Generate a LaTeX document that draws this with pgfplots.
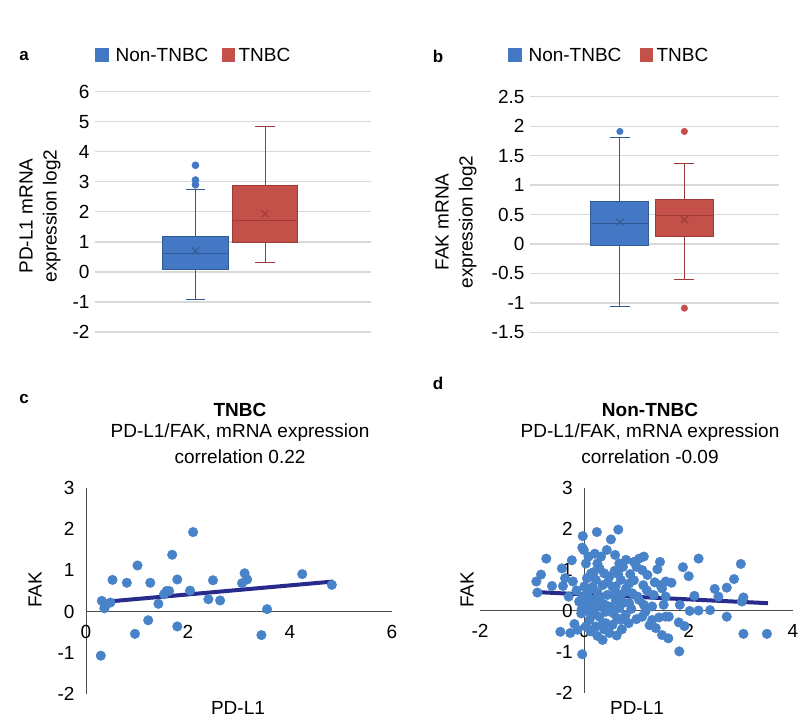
\documentclass[border=0pt]{standalone}
\usepackage{pgfplots}
\pgfplotsset{compat=1.18}
\usepgfplotslibrary{statistics}
\usepackage{fontspec}
\setmainfont{Liberation Sans}

\definecolor{boxblue}{RGB}{68,120,196}
\definecolor{boxblueline}{RGB}{50,90,150}
\definecolor{boxred}{RGB}{196,80,74}
\definecolor{boxredline}{RGB}{158,58,55}
\definecolor{dotblue}{RGB}{72,130,200}
\definecolor{trendline}{RGB}{40,42,140}
\definecolor{gridgray}{RGB}{217,217,217}
\newcommand\fs{\fontsize{19}{24}\selectfont}

\pgfplotsset{
  boxpanel/.style={
    scale only axis, xmin=0, xmax=1, xtick=\empty,
    axis line style={draw=none}, major tick length=0pt,
    ymajorgrids, grid style={gridgray, line width=1.3pt},
    tick label style={font=\fs},
    yticklabel style={xshift=-2pt},
    /pgf/number format/assume math mode=true,
    boxplot/draw direction=y,
    clip=false,
  },
  scatpanel/.style={
    scale only axis, axis lines=middle,
    axis line style={-, draw=black!70, line width=1pt},
    major tick length=0pt, tick label style={font=\fs},
    /pgf/number format/assume math mode=true,
    hide obscured x ticks=false, hide obscured y ticks=false,
    xticklabel style={yshift=-10pt},
    yticklabel style={xshift=-8pt},
    clip=false,
  },
}

\begin{document}
\begin{tikzpicture}
\path[use as bounding box] (0pt,0pt) rectangle (800pt,721pt);

% ---- panel a
\begin{axis}[boxpanel, at={(95pt,389pt)}, anchor=south west,
  width=276pt, height=240.3pt, ymin=-2, ymax=6, ytick={-2,...,6}]
\addplot[boxplot prepared={draw position=0.364, lower whisker=-0.92,
    lower quartile=0.08, median=0.63, upper quartile=1.19, upper whisker=2.76,
    box extend=0.236, whisker extend=0.072},
  fill=boxblue, draw=boxblueline, line width=1pt,
  mark=*, mark size=3.3pt, mark options={fill=boxblue, draw=boxblue}]
  table[row sep=\\, y index=0] {3.55\\3.06\\2.90\\};
\addplot[boxplot prepared={draw position=0.616, lower whisker=0.31,
    lower quartile=0.99, median=1.72, upper quartile=2.88, upper whisker=4.84,
    box extend=0.236, whisker extend=0.072},
  fill=boxred, draw=boxredline, line width=1pt] coordinates {};
\addplot[only marks, mark=x, mark size=5pt, boxblueline, line width=1pt]
  coordinates {(0.364,0.70)};
\addplot[only marks, mark=x, mark size=5pt, boxredline, line width=1pt]
  coordinates {(0.616,1.93)};
\end{axis}

% ---- panel b
\begin{axis}[boxpanel, at={(530pt,388.7pt)}, anchor=south west,
  width=249pt, height=235.6pt, ymin=-1.5, ymax=2.5,
  ytick={-1.5,-1,-0.5,0,0.5,1,1.5,2,2.5}]
\addplot[boxplot prepared={draw position=0.361, lower whisker=-1.06,
    lower quartile=-0.02, median=0.34, upper quartile=0.72, upper whisker=1.81,
    box extend=0.233, whisker extend=0.08},
  fill=boxblue, draw=boxblueline, line width=1pt,
  mark=*, mark size=3pt, mark options={fill=boxblue, draw=boxblue}]
  table[row sep=\\, y index=0] {1.91\\};
\addplot[boxplot prepared={draw position=0.62, lower whisker=-0.60,
    lower quartile=0.12, median=0.49, upper quartile=0.75, upper whisker=1.37,
    box extend=0.233, whisker extend=0.08},
  fill=boxred, draw=boxredline, line width=1pt,
  mark=*, mark size=3pt, mark options={fill=boxred, draw=boxred}]
  table[row sep=\\, y index=0] {1.91\\-1.09\\};
\addplot[only marks, mark=x, mark size=5pt, boxblueline, line width=1pt]
  coordinates {(0.361,0.37)};
\addplot[only marks, mark=x, mark size=5pt, boxredline, line width=1pt]
  coordinates {(0.62,0.41)};
\end{axis}

% ---- panel c
\begin{axis}[scatpanel, at={(86pt,27pt)}, anchor=south west,
  width=306pt, height=206pt, xmin=0, xmax=6, ymin=-2, ymax=3,
  xtick={0,2,4,6}, ytick={-2,...,3}]
\addplot[only marks, mark=*, mark size=4.8pt, mark options={fill=dotblue, draw=dotblue}]
coordinates {
(0.31,0.26) (0.37,0.12) (0.36,0.08) (0.48,0.22) (0.52,0.77) (0.80,0.70)
(1.01,1.12) (0.96,-0.54) (1.26,0.70) (1.22,-0.21) (1.42,0.19) (1.53,0.42)
(1.58,0.50) (1.63,0.50) (1.69,1.38) (1.79,0.78) (1.79,-0.36) (2.04,0.51)
(2.10,1.93) (2.40,0.30) (2.49,0.76) (2.63,0.27) (3.11,0.93) (3.06,0.69)
(3.16,0.78) (3.55,0.06) (3.44,-0.57) (4.24,0.91) (4.82,0.65) (0.29,-1.07)
};
\addplot[trendline, line width=4pt] coordinates {(0.30,0.23) (4.85,0.73)};
\end{axis}

% ---- panel d
\begin{axis}[scatpanel, at={(480pt,28.3pt)}, anchor=south west,
  width=313pt, height=204.4pt, xmin=-2, xmax=4, ymin=-2, ymax=3,
  xtick={-2,0,2,4}, ytick={-2,...,3}]
\addplot[only marks, mark=*, mark size=4.8pt, mark options={fill=dotblue, draw=dotblue}]
coordinates {
(-0.73,1.28) (-0.83,0.89) (-0.92,0.72) (-0.90,0.45) (-0.62,0.61) (-0.43,1.04)
(-0.41,0.61) (-0.24,1.24) (-0.37,0.80) (-0.22,0.72) (-0.46,-0.51) (-0.27,-0.54)
(-0.19,-0.32) (-0.13,-0.46) (-0.03,1.83) (-0.04,1.55) (-0.01,1.49) (0.08,1.33)
(0.03,1.16) (0.13,0.92) (-0.04,-1.06) (0.24,1.93) (0.51,1.75) (0.65,1.99)
(0.43,1.49) (0.32,1.33) (0.25,1.16) (0.29,1.04) (0.59,1.37) (0.67,1.16)
(0.74,1.08) (1.05,1.28) (1.14,1.33) (1.00,1.08) (1.11,1.00) (1.21,0.88)
(1.45,1.20) (1.40,1.02) (1.13,0.63) (1.46,0.63) (1.56,0.72) (1.67,0.69)
(1.49,0.55) (1.89,1.07) (2.00,0.85) (2.19,1.28) (2.11,0.37) (2.50,0.54)
(2.73,0.57) (2.87,0.78) (3.00,1.15) (2.57,0.35) (3.05,0.33) (3.02,0.23)
(2.02,0.00) (2.19,0.01) (2.41,0.02) (2.73,-0.14) (3.05,-0.56) (3.50,-0.56)
(1.83,0.15) (1.81,-0.28) (1.92,-0.37) (1.82,-0.99) (1.61,-0.67) (1.49,-0.59)
(1.37,-0.42) (1.30,-0.22) (1.43,-0.16) (1.56,-0.14) (1.52,0.15) (1.30,0.11)
(1.17,-0.02) (1.14,0.15) (1.02,0.35) (0.92,0.43) (0.79,0.47) (0.86,0.19)
(0.79,-0.10) (0.70,-0.22) (0.63,-0.18) (0.67,0.07) (0.60,0.27) (0.54,0.59)
(0.70,0.76) (0.48,0.84) (0.38,0.92) (0.35,0.63) (0.22,0.76) (0.16,0.59)
(0.06,0.47) (-0.03,0.35) (-0.10,0.23) (0.03,0.15) (0.13,0.02) (-0.06,-0.06)
(0.22,0.27) (0.32,0.11) (0.41,-0.02) (0.29,-0.14) (0.22,-0.38) (0.35,-0.71)
(0.25,-0.61) (0.48,-0.54) (0.41,-0.30) (0.54,-0.34) (0.10,-0.22) (0.03,-0.38)
(0.60,0.43) (0.44,0.39) (0.86,0.67) (1.05,0.27) (1.11,-0.14) (1.33,0.39)
(1.56,0.35) (1.62,-0.14) (0.00,0.60) (0.05,0.80) (0.10,0.30) (0.15,-0.10)
(0.20,0.05) (0.25,0.45) (0.30,0.30) (0.35,-0.30) (0.40,0.15) (0.45,0.70)
(0.50,0.10) (0.55,-0.05) (0.60,0.60) (0.65,0.90) (0.70,0.40) (0.75,0.20)
(0.80,0.55) (0.85,-0.30) (0.90,0.05) (0.95,0.75) (0.12,-0.50) (0.18,0.95)
(0.58,0.98) (0.72,-0.45) (0.88,0.90) (0.05,0.00) (0.38,-0.45) (0.62,-0.60)
(1.00,-0.20) (1.20,0.50) (1.25,-0.35) (1.35,0.70) (-0.05,0.05) (-0.15,0.50)
(-0.30,0.35) (0.95,1.20) (0.80,1.25) (0.20,1.40) (0.10,0.10)
};
\addplot[trendline, line width=4pt] coordinates {(-0.90,0.46) (3.52,0.19)};
\end{axis}

% ---- panel letters, legends, labels, titles
\begin{scope}[font=\fs]
\node[font=\fontsize{17}{20}\selectfont\bfseries] at (24pt,665pt) {a};
\node[font=\fontsize{17}{20}\selectfont\bfseries] at (438pt,665pt) {b};
\node[font=\fontsize{17}{20}\selectfont\bfseries] at (24pt,322pt) {c};
\node[font=\fontsize{17}{20}\selectfont\bfseries] at (438pt,338pt) {d};

\fill[boxblue] (95pt,659pt) rectangle (109pt,673pt);
\node[anchor=west] at (112pt,666pt) {Non-TNBC};
\fill[boxred] (222pt,659pt) rectangle (235pt,673pt);
\node[anchor=west] at (235pt,666pt) {TNBC};
\fill[boxblue] (508pt,659pt) rectangle (522pt,673pt);
\node[anchor=west] at (525pt,666pt) {Non-TNBC};
\fill[boxred] (640pt,659pt) rectangle (653pt,673pt);
\node[anchor=west] at (653pt,666pt) {TNBC};

\node[rotate=90, align=center] at (40pt,505pt) {PD-L1 mRNA\\expression log2};
\node[rotate=90, align=center] at (456pt,499pt) {FAK mRNA\\expression log2};

\node[rotate=90] at (35pt,131pt) {FAK};
\node at (238pt,13pt) {PD-L1};
\node[rotate=90] at (467pt,131pt) {FAK};
\node at (637pt,13pt) {PD-L1};

\node[font=\fs\bfseries] at (240pt,311pt) {TNBC};
\node at (240pt,288pt) {PD-L1/FAK, mRNA expression};
\node at (240pt,264pt) {correlation 0.22};
\node[font=\fs\bfseries] at (650pt,311pt) {Non-TNBC};
\node at (650pt,288pt) {PD-L1/FAK, mRNA expression};
\node at (650pt,264pt) {correlation -0.09};
\end{scope}
\end{tikzpicture}
\end{document}
